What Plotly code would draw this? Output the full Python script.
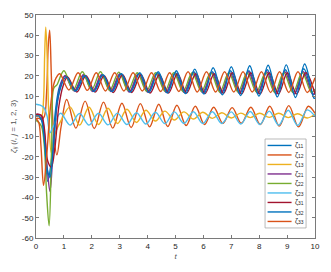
import plotly.graph_objects as go

# ---- data ----
LABELS = ["ζ<sub>11</sub>", "ζ<sub>12</sub>", "ζ<sub>13</sub>", "ζ<sub>21</sub>", "ζ<sub>22</sub>",
          "ζ<sub>23</sub>", "ζ<sub>31</sub>", "ζ<sub>32</sub>", "ζ<sub>33</sub>"]
COLORS = ["#0072BD", "#D95319", "#EDB120", "#7E2F8E", "#77AC30",
          "#4DBEEE", "#A2142F", "#0072BD", "#D95319"]

T11 = [0, 0.1, 0.2, 0.3, 0.42, 0.55, 0.7, 0.85, 1.06, 1.39, 1.72, 2.05, 2.37, 2.70, 3.03, 3.36, 3.69, 4.02,
       4.35, 4.68, 5.00, 5.33, 5.66, 5.99, 6.32, 6.65, 6.97, 7.30, 7.63, 7.96, 8.29, 8.62, 8.94, 9.27, 9.60, 9.93, 10.0]
Y11 = [0.5, 0.5, -1, -10, -32, -22, 3, 15, 20, 12.5, 20.5, 12.5, 20.5, 12.3, 21, 12.2, 21, 12, 21.5, 11.8,
       21.5, 11.8, 22, 11.5, 22, 11.5, 22.5, 11.2, 22.5, 11.2, 23, 11, 23, 11, 23.5, 10.8, 11]

T12 = [0, 0.1, 0.2, 0.3, 0.38, 0.44, 0.49, 0.55, 0.63, 0.75, 0.9, 1.10, 1.43, 1.76, 2.09, 2.42, 2.75, 3.08,
       3.41, 3.74, 4.07, 4.40, 4.72, 5.05, 5.38, 5.71, 6.04, 6.37, 6.70, 7.03, 7.36, 7.70, 8.04, 8.38, 8.72,
       9.06, 9.41, 9.76, 10.0]
Y12 = [-1, -1, -1.5, 0, 12, 35, 42.5, 20, -8, -19, -5, 8.3, -5.8, 7.5, -6, 7, -5.8, 6.5, -5.5, 6.3, -5.2,
       6, -5, 5.5, -4.5, 5, -4, 4.5, -3.5, 4.3, -3.4, 4.5, -4, 5, -4.8, 5.3, -5.2, 5, 1.5]

T13 = [0, 0.1, 0.2, 0.27, 0.31, 0.35, 0.4, 0.46, 0.55, 0.7, 0.9, 1.22, 1.56, 1.90, 2.24, 2.58, 2.92, 3.26,
       3.60, 3.94, 4.28, 4.62, 4.96, 5.30, 5.64, 5.98, 6.32, 6.66, 7.00, 7.34, 7.68, 8.02, 8.36, 8.70, 9.04,
       9.38, 9.72, 10.0]
Y13 = [0, 0, 0, 8, 30, 44, 30, 0, -18, -8, -2, 4.7, -4.3, 4.5, -4, 4, -3.5, 3.5, -3, 3, -2.3, 2.6, -1.8,
       2.2, -1.3, 2, -1, 1.8, -0.8, 1.6, -0.6, 1.5, -0.5, 1.5, -0.6, 1.3, -0.8, 1.2]

T21 = [0, 0.1, 0.2, 0.3, 0.4, 0.5, 0.6, 0.75, 0.88, 1.04, 1.37, 1.70, 2.03, 2.35, 2.68, 3.01, 3.34, 3.67,
       4.00, 4.33, 4.66, 4.98, 5.31, 5.64, 5.97, 6.30, 6.63, 6.95, 7.28, 7.61, 7.94, 8.27, 8.60, 8.92, 9.25,
       9.58, 9.91, 10.0]
Y21 = [1, 1, 0, -8, -25, -37, -20, 5, 15, 20, 12.5, 20.5, 12.3, 20.5, 12.3, 21, 12, 21, 12, 21, 12, 21,
       11.8, 21.5, 11.8, 21.5, 11.5, 21.5, 11.5, 22, 11.5, 22, 11.2, 22, 11.2, 22, 11, 11.5]

T22 = [0, 0.1, 0.2, 0.3, 0.38, 0.47, 0.56, 0.64, 0.75, 1.00, 1.33, 1.66, 1.99, 2.31, 2.64, 2.97, 3.30, 3.63,
       3.96, 4.29, 4.62, 4.94, 5.27, 5.60, 5.93, 6.26, 6.59, 6.91, 7.24, 7.57, 7.90, 8.23, 8.56, 8.88, 9.21,
       9.54, 9.87, 10.0]
Y22 = [-2, -3, -5, -15, -38, -54, -15, 14, 15.5, 22.5, 13, 22, 13, 22, 12.8, 21.8, 12.8, 21.5, 12.5, 21.5,
       12.5, 21.5, 12.3, 21.5, 12.3, 21.5, 12, 21.5, 12, 21.5, 12, 21.5, 11.8, 21.5, 11.8, 21.5, 11.8, 13.5]

T23 = [0, 0.15, 0.3, 0.4, 0.5, 0.62, 0.88, 1.22, 1.56, 1.90, 2.24, 2.58, 2.92, 3.26, 3.60, 3.94, 4.28, 4.62,
       4.96, 5.30, 5.64, 5.98, 6.32, 6.66, 7.00, 7.34, 7.68, 8.02, 8.36, 8.70, 9.04, 9.38, 9.72, 10.0]
Y23 = [6, 5.5, 4, 0, -8, -5, 1.5, -4.3, 1.4, -4.3, 1.5, -4.2, 1.6, -4, 1.8, -3.8, 2, -3.6, 2.2, -3.5, 2.3,
       -3.5, 2.3, -3.5, 2.2, -3.8, 2.4, -4, 2.6, -4.3, 3, -4.5, 3.2, 0]

T31 = [0, 0.1, 0.2, 0.3, 0.42, 0.55, 0.68, 0.82, 0.97, 1.13, 1.46, 1.79, 2.12, 2.44, 2.77, 3.10, 3.43, 3.76,
       4.09, 4.42, 4.75, 5.07, 5.40, 5.73, 6.06, 6.39, 6.72, 7.04, 7.37, 7.70, 8.03, 8.36, 8.69, 9.01, 9.34,
       9.67, 10.0]
Y31 = [1, 1, 0.5, -6, -22, -25, -15, 5, 15, 19.5, 12, 20, 12, 20, 11.8, 20.5, 11.8, 20.5, 11.5, 20.5, 11.5,
       21, 11.5, 21, 11.3, 21, 11.3, 21.5, 11, 21.5, 11, 21.5, 11, 21.5, 11, 21.5, 11]

T32 = [0, 0.1, 0.2, 0.3, 0.4, 0.5, 0.62, 0.8, 1.09, 1.42, 1.75, 2.08, 2.40, 2.73, 3.06, 3.39, 3.72, 4.05,
       4.38, 4.71, 5.03, 5.36, 5.69, 6.02, 6.35, 6.68, 7.00, 7.33, 7.66, 7.99, 8.32, 8.65, 8.97, 9.30, 9.63,
       9.96, 10.0]
Y32 = [0, 0, -2, -12, -26, -30, -15, 10, 19.5, 12.5, 20, 12.3, 20.5, 12.2, 21, 12, 21.5, 11.8, 22, 11.5,
       22.5, 11.2, 23.3, 11, 24, 10.6, 24.5, 10.3, 25, 10, 25.2, 9.6, 25.4, 9.3, 25.8, 9, 9.1]

T33 = [0, 0.1, 0.18, 0.27, 0.38, 0.5, 0.62, 0.72, 0.85, 1.18, 1.51, 1.84, 2.16, 2.49, 2.82, 3.15, 3.48, 3.81,
       4.14, 4.47, 4.79, 5.12, 5.45, 5.78, 6.11, 6.44, 6.76, 7.09, 7.42, 7.75, 8.08, 8.41, 8.73, 9.06, 9.39,
       9.72, 10.0]
Y33 = [-1, -3, -15, -34, -20, 2, 15, 19, 21, 13, 21.5, 12.8, 21.5, 12.5, 21.5, 12.5, 21.5, 12.5, 21.5, 12.3,
       21.5, 12.3, 22, 12, 22, 12, 22, 12, 22, 12, 22, 11.8, 22, 11.8, 22, 11.8, 19]

SERIES_T = [T11, T12, T13, T21, T22, T23, T31, T32, T33]
SERIES_Y = [Y11, Y12, Y13, Y21, Y22, Y23, Y31, Y32, Y33]

X_TICKS = list(range(0, 11))
Y_TICKS = list(range(-60, 51, 10))

# ---- figure ----
fig = go.Figure()
for t, y, name, c in zip(SERIES_T, SERIES_Y, LABELS, COLORS):
    fig.add_trace(go.Scatter(x=t, y=y, mode="lines", name=name, showlegend=False,
                             line=dict(color=c, width=1.4, shape="spline", smoothing=1.0)))

FONT_FAMILY = "Liberation Sans, Arial, sans-serif"
AX_COLOR = "#7a7a7a"
TICK_FONT = dict(family=FONT_FAMILY, size=8, color="#262626")
common = dict(showline=True, linecolor=AX_COLOR, linewidth=1, mirror="allticks",
              ticks="inside", ticklen=3, tickcolor=AX_COLOR, tickwidth=1,
              showgrid=False, zeroline=False, tickfont=TICK_FONT, ticklabeloverflow="allow")

fig.update_xaxes(range=[0, 10], tickvals=X_TICKS, ticktext=[str(v) for v in X_TICKS],
                 title=dict(text="<i>t</i>", standoff=3,
                            font=dict(family=FONT_FAMILY, size=8, color="#555555")),
                 **common)
fig.update_yaxes(range=[-60, 50], tickvals=Y_TICKS, ticktext=[str(v) for v in Y_TICKS],
                 title=dict(text="<i>ζ</i><sub><i>ij</i></sub> (<i>i</i>, <i>j</i> = 1, 2, 3)", standoff=4,
                            font=dict(family=FONT_FAMILY, size=8, color="#555555")),
                 **common)

# ---- compact legend box (MATLAB style) ----
shapes = [dict(type="rect", xref="paper", yref="paper", x0=0.821, x1=0.968, y0=0.045, y1=0.444,
               fillcolor="white", line=dict(color="#a8a8a8", width=0.8), layer="above")]
annotations = []
for i, (name, c) in enumerate(zip(LABELS, COLORS)):
    yy = 0.415 - i * 0.0426
    shapes.append(dict(type="line", xref="paper", yref="paper", x0=0.830, x1=0.916, y0=yy, y1=yy,
                       line=dict(color=c, width=1.4), layer="above"))
    annotations.append(dict(xref="paper", yref="paper", x=0.922, y=yy, xanchor="left", yanchor="middle",
                            text=name, showarrow=False,
                            font=dict(family=FONT_FAMILY, size=7, color="#262626")))

fig.update_layout(width=331, height=272, margin=dict(l=36, r=16, t=15, b=34),
                  paper_bgcolor="white", plot_bgcolor="white", hovermode=False,
                  shapes=shapes, annotations=annotations, showlegend=False)

fig.write_html("out.html", config={"displayModeBar": False},
               post_script="document.body.style.margin='0px';")
